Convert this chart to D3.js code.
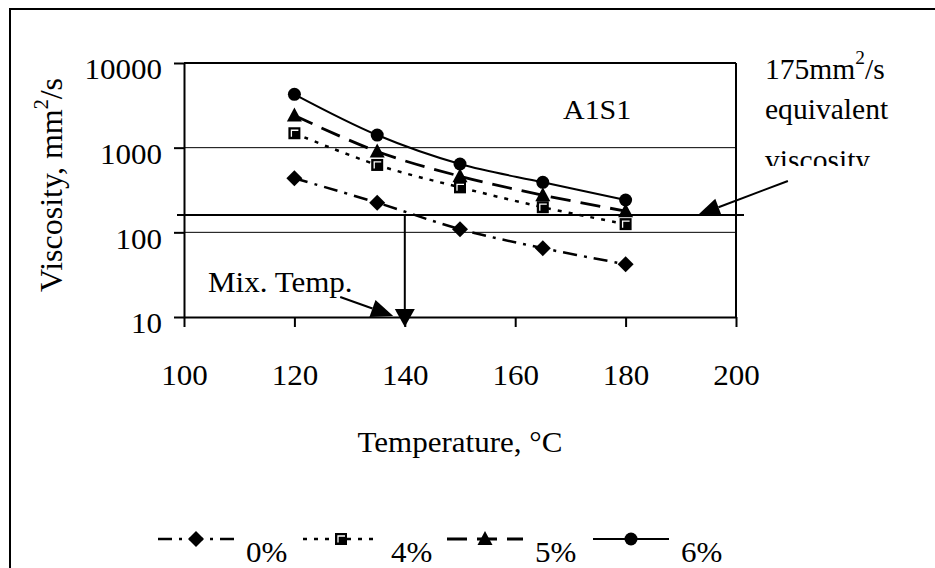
<!DOCTYPE html>
<html><head><meta charset="utf-8">
<script src="https://cdn.jsdelivr.net/npm/d3@7"></script>
<style>
body{margin:0;background:#fff}
svg{display:block}
text{font-family:"Liberation Serif","Times New Roman",serif;fill:#000}
</style>
</head><body>
<svg id="c" width="935" height="568"></svg>
<script>
// ---- data ----
const temperatures = [120, 135, 150, 165, 180];
const seriesNames = ["0%", "4%", "5%", "6%"];
const visc0 = [435, 224, 109, 65, 42];
const visc4 = [1480, 625, 340, 198, 125];
const visc5 = [2400, 900, 460, 275, 178];
const visc6 = [4270, 1410, 641, 390, 241];
const xTicks = [100, 120, 140, 160, 180, 200];
const yTicks = [10, 100, 1000, 10000];
const yGrid = [100, 1000];
const equivViscosity = 160;   // where the "175 mm2/s" reference line is drawn
const mixTemperature = 140;
const mixArrow = [[128.3, 17.2], [137.9, 10.3]];
const equivArrow = [[209.4, 404], [193.1, 160]];

const SX = 1.07;
const svg = d3.select("#c");
const x = d3.scaleLinear().domain([100, 200]).range([184, 736]);
const y = d3.scaleLog().domain([10, 10000]).range([317, 63]);

// outer frame
svg.append("rect").attr("x", 10).attr("y", 9).attr("width", 960).attr("height", 620)
  .attr("fill", "none").attr("stroke", "#000").attr("stroke-width", 2);

// gridlines
svg.selectAll(".grid").data(yGrid).enter().append("line")
  .attr("x1", x(100)).attr("x2", x(200)).attr("y1", d => y(d)).attr("y2", d => y(d))
  .attr("stroke", "#000").attr("stroke-width", 1);
// plot box top / right
svg.append("line").attr("x1", x(100)).attr("x2", x(200)).attr("y1", y(10000)).attr("y2", y(10000))
  .attr("stroke", "#000").attr("stroke-width", 2);
svg.append("line").attr("x1", x(200)).attr("x2", x(200)).attr("y1", y(10000)).attr("y2", y(10))
  .attr("stroke", "#000").attr("stroke-width", 2);

// axes
const yAxis = svg.append("g").attr("transform", `translate(${x(100)},0)`)
  .call(d3.axisLeft(y).tickValues(yTicks).tickFormat(d3.format("d")).tickSize(10).tickSizeOuter(0).tickPadding(12));
const xAxis = svg.append("g").attr("transform", `translate(0,${y(10)})`)
  .call(d3.axisBottom(x).tickValues(xTicks).tickFormat(d3.format("d")).tickSize(10).tickSizeOuter(0));
[yAxis, xAxis].forEach(g => {
  g.select(".domain").attr("stroke", "#000").attr("stroke-width", 2);
  g.selectAll(".tick line").attr("stroke", "#000").attr("stroke-width", 2);
  g.selectAll("text").attr("font-family", null).style("font-size", "29px").attr("fill", "#000");
});
yAxis.selectAll("text").attr("x", 0).attr("dy", "0.55em")
  .attr("transform", `translate(-22,0) scale(${SX},1)`);
xAxis.selectAll("text").attr("y", 0).attr("dy", 0)
  .attr("transform", `translate(0,68) scale(${SX},1)`);

// axis titles
svg.append("text").attr("text-anchor", "middle").style("font-size", "29px")
  .attr("transform", `translate(460,452) scale(${SX},1)`).text("Temperature, °C");
const yt = svg.append("text").attr("text-anchor", "middle").style("font-size", "32px")
  .attr("transform", "translate(62,185) rotate(-90)");
yt.append("tspan").text("Viscosity, mm");
yt.append("tspan").attr("dy", -14).style("font-size", "20px").text("2");
yt.append("tspan").attr("dy", 14).text("/s");

// reference line (175 mm2/s) and mix-temp drop line
svg.append("line").attr("x1", x(100) - 7).attr("x2", x(200) + 8)
  .attr("y1", y(equivViscosity)).attr("y2", y(equivViscosity))
  .attr("stroke", "#000").attr("stroke-width", 2);
svg.append("line").attr("x1", x(mixTemperature)).attr("x2", x(mixTemperature))
  .attr("y1", y(equivViscosity)).attr("y2", y(10) - 6)
  .attr("stroke", "#000").attr("stroke-width", 2);
svg.append("path").attr("fill", "#000")
  .attr("d", `M${x(mixTemperature) - 10},${y(10) - 8}L${x(mixTemperature) + 10},${y(10) - 8}L${x(mixTemperature)},${y(10) + 10}Z`);

function arrow(p0, p1) {
  const X0 = x(p0[0]), Y0 = y(p0[1]), X1 = x(p1[0]), Y1 = y(p1[1]);
  const dx = X1 - X0, dy = Y1 - Y0, L = Math.hypot(dx, dy), ux = dx / L, uy = dy / L;
  const hl = 22, hw = 9;
  const bx = X1 - ux * hl, by = Y1 - uy * hl;
  svg.append("line").attr("x1", X0).attr("y1", Y0).attr("x2", bx).attr("y2", by)
    .attr("stroke", "#000").attr("stroke-width", 2);
  svg.append("path").attr("fill", "#000")
    .attr("d", `M${X1},${Y1}L${bx - uy * hw},${by + ux * hw}L${bx + uy * hw},${by - ux * hw}Z`);
}
arrow(mixArrow[0], mixArrow[1]);
arrow(equivArrow[0], equivArrow[1]);

// annotation texts
svg.append("text").style("font-size", "29px")
  .attr("transform", `translate(208,292) scale(${SX},1)`).text("Mix. Temp.");
svg.append("text").style("font-size", "28px")
  .attr("transform", `translate(563,119) scale(${SX},1)`).text("A1S1");
const t1 = svg.append("text").style("font-size", "29px")
  .attr("transform", `translate(765,79) scale(1.02,1)`);
t1.append("tspan").text("175mm");
t1.append("tspan").attr("dy", -15).style("font-size", "19px").text("2");
t1.append("tspan").attr("dy", 15).text("/s");
svg.append("text").style("font-size", "29px")
  .attr("transform", `translate(765,119) scale(1.02,1)`).text("equivalent");
svg.append("clipPath").attr("id", "clipv").append("rect")
  .attr("x", 740).attr("y", 130).attr("width", 200).attr("height", 36);
svg.append("g").attr("clip-path", "url(#clipv)").append("text").style("font-size", "29px")
  .attr("transform", `translate(765,170) scale(1.02,1)`).text("viscosity");

// series
const series = [
  { name: seriesNames[0], values: visc0, dash: "14,7,3,7", width: 2.5, marker: "diamond" },
  { name: seriesNames[1], values: visc4, dash: "4,7", width: 2.5, marker: "square" },
  { name: seriesNames[2], values: visc5, dash: "20,10", width: 2.8, marker: "triangle" },
  { name: seriesNames[3], values: visc6, dash: null, width: 2, marker: "circle" }
];
const line = d3.line().x(d => x(d.t)).y(d => y(d.v)).curve(d3.curveCatmullRom.alpha(0.5));

function drawMarker(g, type, cx, cy) {
  if (type === "diamond") {
    g.append("path").attr("d", `M${cx},${cy - 8}L${cx + 8},${cy}L${cx},${cy + 8}L${cx - 8},${cy}Z`).attr("fill", "#000");
  } else if (type === "square") {
    g.append("rect").attr("x", cx - 6).attr("y", cy - 6).attr("width", 12).attr("height", 12).attr("fill", "#000");
    g.append("path").attr("d", `M${cx - 3},${cy + 3.5}L${cx - 3},${cy - 3}L${cx + 4},${cy - 3}`)
      .attr("fill", "none").attr("stroke", "#fff").attr("stroke-width", 1.3);
  } else if (type === "triangle") {
    g.append("path").attr("d", `M${cx},${cy - 8}L${cx + 7.5},${cy + 6}L${cx - 7.5},${cy + 6}Z`).attr("fill", "#000");
  } else {
    g.append("circle").attr("cx", cx).attr("cy", cy).attr("r", 6.5).attr("fill", "#000");
  }
}

series.forEach(s => {
  const pts = temperatures.map((t, i) => ({ t, v: s.values[i] }));
  const g = svg.append("g");
  g.append("path").datum(pts).attr("d", line).attr("fill", "none").attr("stroke", "#000")
    .attr("stroke-width", s.width).attr("stroke-dasharray", s.dash);
  pts.forEach(p => drawMarker(g, s.marker, x(p.t), y(p.v)));
});

// legend
const legendX = [158, 303, 447, 593];
const legY = 539;
series.forEach((s, i) => {
  const g = svg.append("g");
  const x0 = legendX[i], x1 = x0 + 76;
  g.append("line").attr("x1", x0).attr("x2", x1).attr("y1", legY).attr("y2", legY)
    .attr("stroke", "#000").attr("stroke-width", s.width).attr("stroke-dasharray", s.dash);
  drawMarker(g, s.marker, (x0 + x1) / 2, legY);
  g.append("text").style("font-size", "29px")
    .attr("transform", `translate(${x1 + 12},${legY + 23}) scale(${SX},1)`).text(s.name);
});
</script>
</body></html>
